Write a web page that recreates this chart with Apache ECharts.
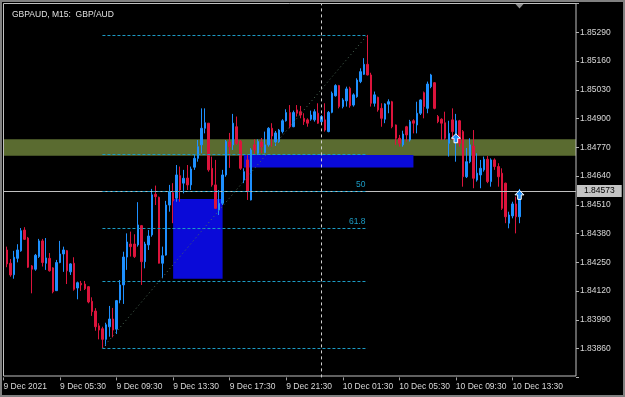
<!DOCTYPE html>
<html>
<head>
<meta charset="utf-8">
<title>GBPAUD M15</title>
<script src="https://cdn.jsdelivr.net/npm/echarts@6.0.0/dist/echarts.min.js"></script>
<style>
html,body{margin:0;padding:0;background:#000;}
#chart{width:625px;height:397px;}
</style>
</head>
<body>
<div id="chart"></div>
<script>
// M15 bars, 9 Dec 01:45 -> 10 Dec 14:00
var openP = [1.84306,1.84246,1.84194,1.84268,1.84302,1.84396,1.84360,1.84234,1.84219,1.84276,
  1.84347,1.84246,1.84268,1.84225,1.84122,1.84249,1.84288,1.84303,1.84207,1.84246,
  1.84134,1.84155,1.84152,1.84140,1.84074,1.84030,1.83963,1.83950,1.83902,1.83959,
  1.83994,1.83948,1.84080,1.84148,1.84274,1.84333,1.84333,1.84329,1.84416,1.84253,
  1.84329,1.84374,1.84558,1.84544,1.84246,1.84283,1.84509,1.84565,1.84540,1.84642,
  1.84608,1.84631,1.84600,1.84680,1.84720,1.84781,1.84856,1.84879,1.84675,1.84600,
  1.84487,1.84517,1.84645,1.84794,1.84781,1.84863,1.84796,1.84622,1.84713,1.84532,
  1.84781,1.84743,1.84794,1.84746,1.84781,1.84856,1.84794,1.84796,1.84841,1.84890,
  1.84927,1.84863,1.84939,1.84931,1.84901,1.84894,1.84897,1.84894,1.84924,1.84886,
  1.84894,1.84841,1.84928,1.85003,1.85049,1.84954,1.84980,1.85037,1.84961,1.84999,
  1.85067,1.85100,1.85145,1.85097,1.84969,1.84996,1.84946,1.84897,1.84965,1.84976,
  1.84871,1.84811,1.84781,1.84863,1.84803,1.84890,1.84871,1.84924,1.85017,1.84946,
  1.85044,1.85062,1.84909,1.84897,1.84881,1.84788,1.84894,1.84811,1.84890,1.84841,
  1.84637,1.84705,1.84776,1.84622,1.84645,1.84668,1.84716,1.84615,1.84713,1.84683,
  1.84653,1.84608,1.84427,1.84460,1.84514,1.84456];
var closeP = [1.84243,1.84193,1.84273,1.84306,1.84393,1.84354,1.84228,1.84219,1.84282,1.84347,
  1.84249,1.84270,1.84212,1.84117,1.84249,1.84288,1.84306,1.84212,1.84243,1.84128,
  1.84158,1.84148,1.84131,1.84071,1.84027,1.83959,1.83944,1.83902,1.83968,1.83994,
  1.83944,1.84077,1.84148,1.84274,1.84342,1.84321,1.84276,1.84419,1.84253,1.84333,
  1.84369,1.84555,1.84547,1.84246,1.84280,1.84509,1.84570,1.84528,1.84645,1.84577,
  1.84630,1.84600,1.84672,1.84720,1.84773,1.84856,1.84881,1.84668,1.84600,1.84494,
  1.84517,1.84645,1.84796,1.84772,1.84879,1.84788,1.84675,1.84660,1.84570,1.84758,
  1.84758,1.84796,1.84772,1.84781,1.84856,1.84821,1.84835,1.84848,1.84890,1.84927,
  1.84863,1.84927,1.84924,1.84916,1.84886,1.84879,1.84916,1.84931,1.84879,1.84909,
  1.84848,1.84928,1.85014,1.85049,1.84954,1.84984,1.85034,1.84958,1.85007,1.85074,
  1.85112,1.85145,1.85097,1.84969,1.85007,1.84939,1.84901,1.84966,1.84976,1.84863,
  1.84811,1.84788,1.84830,1.84826,1.84886,1.84879,1.84924,1.84984,1.84954,1.85056,
  1.85097,1.84946,1.84886,1.84879,1.84811,1.84833,1.84841,1.84890,1.84788,1.84637,
  1.84705,1.84781,1.84630,1.84653,1.84675,1.84716,1.84615,1.84713,1.84683,1.84637,
  1.84494,1.84456,1.84464,1.84514,1.84456,1.84573];
var lowP = [1.84228,1.84185,1.84176,1.84250,1.84298,1.84351,1.84225,1.84110,1.84212,1.84270,
  1.84231,1.84216,1.84208,1.84110,1.84121,1.84246,1.84207,1.84152,1.84193,1.84122,
  1.84083,1.84121,1.84125,1.84065,1.84008,1.83941,1.83902,1.83862,1.83872,1.83914,
  1.83911,1.83926,1.84065,1.84062,1.84216,1.84276,1.84270,1.84321,1.84148,1.84223,
  1.84306,1.84366,1.84509,1.84245,1.84178,1.84280,1.84479,1.84427,1.84524,1.84524,
  1.84562,1.84577,1.84577,1.84668,1.84705,1.84743,1.84833,1.84660,1.84592,1.84494,
  1.84464,1.84509,1.84637,1.84677,1.84758,1.84781,1.84668,1.84608,1.84532,1.84530,
  1.84735,1.84735,1.84744,1.84743,1.84773,1.84773,1.84776,1.84790,1.84833,1.84886,
  1.84856,1.84861,1.84909,1.84901,1.84871,1.84863,1.84890,1.84886,1.84876,1.84876,
  1.84841,1.84838,1.84924,1.84999,1.84946,1.84946,1.84954,1.84949,1.84954,1.84994,
  1.85060,1.85097,1.85095,1.84954,1.84954,1.84931,1.84863,1.84879,1.84924,1.84856,
  1.84781,1.84773,1.84773,1.84796,1.84796,1.84833,1.84833,1.84916,1.84901,1.84924,
  1.85037,1.84942,1.84879,1.84803,1.84803,1.84728,1.84803,1.84705,1.84773,1.84592,
  1.84631,1.84698,1.84585,1.84615,1.84585,1.84660,1.84608,1.84592,1.84668,1.84592,
  1.84487,1.84427,1.84404,1.84449,1.84381,1.84427];
var highP = [1.84321,1.84265,1.84302,1.84332,1.84405,1.84409,1.84365,1.84238,1.84288,1.84356,
  1.84356,1.84360,1.84292,1.84228,1.84261,1.84347,1.84321,1.84306,1.84246,1.84273,
  1.84163,1.84166,1.84166,1.84143,1.84092,1.84043,1.83975,1.83959,1.83977,1.84053,
  1.84044,1.84080,1.84170,1.84298,1.84381,1.84389,1.84377,1.84522,1.84419,1.84343,
  1.84396,1.84582,1.84597,1.84547,1.84321,1.84528,1.84600,1.84608,1.84690,1.84683,
  1.84668,1.84690,1.84683,1.84735,1.84803,1.84946,1.84946,1.84880,1.84728,1.84713,
  1.84577,1.84668,1.84803,1.84835,1.84921,1.84909,1.84803,1.84675,1.84735,1.84766,
  1.84806,1.84806,1.84812,1.84841,1.84861,1.84879,1.84844,1.84853,1.84897,1.84942,
  1.84961,1.84936,1.84961,1.84957,1.84924,1.84901,1.84936,1.84942,1.84969,1.84916,
  1.84969,1.84934,1.85022,1.85055,1.85052,1.84992,1.85044,1.85044,1.85014,1.85082,
  1.85127,1.85173,1.85278,1.85107,1.85022,1.84999,1.84969,1.84969,1.84987,1.84980,
  1.84873,1.84826,1.84845,1.84867,1.84894,1.84897,1.84976,1.84987,1.85022,1.85067,
  1.85102,1.85065,1.84916,1.84901,1.84931,1.84890,1.84946,1.84921,1.84894,1.84848,
  1.84767,1.84811,1.84848,1.84743,1.84713,1.84728,1.84731,1.84720,1.84720,1.84698,
  1.84675,1.84610,1.84479,1.84524,1.84547,1.84582];

// fibonacci drawn from the low (bar 28) to the high (bar 103)
var fibPrices = [1.85278, 1.84737, 1.84570, 1.84403, 1.84165, 1.83862];
var fibNames = ['', '', '50', '61.8', '', ''];
var fibFrom = 28, fibTo = 103;

var zoneBand = [1.84806, 1.84732];
var boxA = [48, 1.84536, 62, 1.84176];
var boxB = [68, 1.84735, 116, 1.84679];
var lastPrice = 1.84573;
var arrows = [[128, 1.84811], [146, 1.84555]];
var cursorIndex = 90;

var tickIndex = [0, 16, 32, 48, 64, 80, 96, 112, 128, 144];
var tickLabels = ['9 Dec 2021', '9 Dec 05:30', '9 Dec 09:30', '9 Dec 13:30', '9 Dec 17:30',
  '9 Dec 21:30', '10 Dec 01:30', '10 Dec 05:30', '10 Dec 09:30', '10 Dec 13:30'];

// one empty slot on the left, 16 on the right (chart shift)
var categories = [];
for (var i = 0; i < 163; i++) {
  var m = 90 + i * 15;
  var d = 9 + Math.floor(m / 1440);
  m = m % 1440;
  var hh = Math.floor(m / 60), mm = m % 60;
  categories.push(d + ' Dec ' + (hh < 10 ? '0' : '') + hh + ':' + (mm < 10 ? '0' : '') + mm);
}
var candles = ['-'];
for (var j = 0; j < openP.length; j++) {
  candles.push([openP[j], closeP[j], lowP[j], highP[j]]);
}

var fibColor = '#1c9bc4';
var font = 'Liberation Sans';
var lastIdx = categories.length - 1;
var lines = [
  [{coord: [0, lastPrice], lineStyle: {color: '#c0c0c0', type: 'solid', width: 1},
    label: {show: true, position: 'end', distance: 1, formatter: lastPrice.toFixed(5),
      backgroundColor: '#c4c4c4', color: '#000', fontSize: 8.5, fontFamily: font, padding: [2, 7, 1, 7]}},
   {coord: [lastIdx, lastPrice]}],
  {xAxis: cursorIndex, lineStyle: {color: '#d0d0d0', type: [3, 3], width: 1}, label: {show: false}}
];
fibPrices.forEach(function (p, k) {
  lines.push([
    {coord: [fibFrom, p], lineStyle: {color: fibColor, type: [3, 2], width: 1},
     label: {show: fibNames[k] !== '', position: 'insideEndTop', formatter: fibNames[k],
       color: fibColor, fontSize: 8.5, fontFamily: font, distance: 2}},
    {coord: [fibTo, p]}
  ]);
});
lines.push([
  {coord: [fibFrom, fibPrices[5]], lineStyle: {color: '#4f6e5a', type: [1, 3], width: 1}, label: {show: false}},
  {coord: [fibTo, fibPrices[0]]}
]);

var chart = echarts.init(document.getElementById('chart'));
chart.setOption({
  backgroundColor: '#000',
  animation: false,
  title: {
    text: 'GBPAUD, M15:  GBP/AUD', left: 7, top: 5,
    textStyle: {color: '#e0e0e0', fontSize: 8.5, fontWeight: 'normal', fontFamily: font}
  },
  grid: {left: 3.5, right: 49, top: 3.5, bottom: 19.6},
  xAxis: {
    type: 'category', data: categories, boundaryGap: false,
    axisLine: {show: false},
    axisTick: {show: true, length: 3, lineStyle: {color: '#a0a0a0'},
      interval: function (idx) { return tickIndex.indexOf(idx) >= 0; }},
    axisLabel: {
      color: '#d8d8d8', fontSize: 8.5, fontFamily: font, align: 'left', margin: 5,
      interval: function (idx) { return tickIndex.indexOf(idx) >= 0; },
      formatter: function (v, idx) {
        var k = tickIndex.indexOf(idx);
        return k >= 0 ? tickLabels[k] : '';
      }
    },
    splitLine: {show: false}
  },
  yAxis: {
    type: 'value', position: 'right', scale: true,
    min: 1.83730, max: 1.85420, interval: 0.0013,
    axisLine: {show: false},
    splitLine: {show: false},
    axisTick: {show: true, length: 3, lineStyle: {color: '#b0b0b0'}},
    axisLabel: {
      color: '#d8d8d8', fontSize: 8.5, fontFamily: font, margin: 4,
      formatter: function (v) {
        if (Math.abs(v - 1.83730) < 1e-7 || Math.abs(v - 1.85420) < 1e-7) return '';
        return v.toFixed(5);
      }
    }
  },
  series: [{
    type: 'candlestick',
    data: candles,
    barWidth: 2,
    itemStyle: {color: '#1e90ff', color0: '#dc143c', borderColor: '#1e90ff', borderColor0: '#dc143c', borderWidth: 1},
    markArea: {
      silent: true,
      data: [
        [{yAxis: zoneBand[0], itemStyle: {color: '#5a6b30', opacity: 1}}, {yAxis: zoneBand[1]}],
        [{coord: [boxA[0], boxA[1]], itemStyle: {color: '#0a0ad8', opacity: 1}}, {coord: [boxA[2], boxA[3]]}],
        [{coord: [boxB[0], boxB[1]], itemStyle: {color: '#0a0ad8', opacity: 1}}, {coord: [boxB[2], boxB[3]]}]
      ]
    },
    markLine: {silent: true, symbol: ['none', 'none'], data: lines},
    markPoint: {
      silent: true,
      symbol: 'path://M5 0 L10 5 L7 5 L7 10 L3 10 L3 5 L0 5 Z',
      symbolSize: [9, 9],
      itemStyle: {color: '#1e90ff', borderColor: '#ffffff', borderWidth: 1},
      label: {show: false},
      data: arrows.map(function (a) { return {coord: a}; })
    }
  }],
  graphic: [
    {type: 'rect', shape: {x: 3.5, y: 3.5, width: 572.5, height: 372.5}, silent: true,
     style: {fill: null, stroke: '#c0c0c0', lineWidth: 1}, z: 10},
    {type: 'rect', shape: {x: 1, y: 1, width: 623, height: 395}, silent: true,
     style: {fill: null, stroke: '#808080', lineWidth: 2}, z: 10},
    {type: 'polygon', shape: {points: [[515.5, 4], [523.5, 4], [519.5, 8.5]]}, silent: true,
     style: {fill: '#909090'}, z: 10}
  ]
});
</script>
</body>
</html>
